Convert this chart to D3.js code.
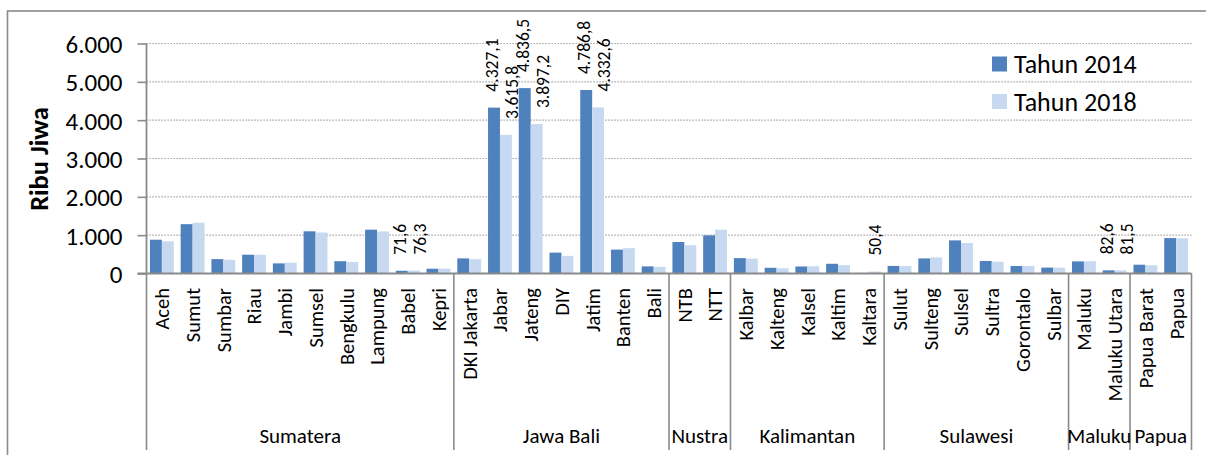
<!DOCTYPE html>
<html><head><meta charset="utf-8">
<script src="https://cdn.jsdelivr.net/npm/d3@7"></script>
<style>
body{margin:0;background:#fff}
svg{display:block}
text{font-family:Carlito, Lato, sans-serif; fill:#000}
</style>
</head><body>
<svg id="c" width="1206" height="455"></svg>
<script>
const provinces = ["Aceh","Sumut","Sumbar","Riau","Jambi","Sumsel","Bengkulu","Lampung","Babel","Kepri",
  "DKI Jakarta","Jabar","Jateng","DIY","Jatim","Banten","Bali",
  "NTB","NTT",
  "Kalbar","Kalteng","Kalsel","Kaltim","Kaltara",
  "Sulut","Sulteng","Sulsel","Sultra","Gorontalo","Sulbar",
  "Maluku","Maluku Utara",
  "Papua Barat","Papua"];
const regions = ["Sumatera","Jawa Bali","Nustra","Kalimantan","Sulawesi","Maluku","Papua"];
const regionCounts = [10,7,2,5,6,2,2];
const seriesNames = ["Tahun 2014","Tahun 2018"];
const values2014 = [881.3,1286.7,375.0,490.0,263.8,1100.8,320.4,1143.9,71.6,125.0,
  394.0,4327.1,4836.5,544.9,4786.8,622.8,185.2,
  820.8,994.7,
  401.5,148.8,183.2,253.6,null,
  197.6,392.7,864.3,326.7,194.7,153.9,
  316.1,82.6,
  229.4,924.4];
const values2018 = [839.5,1325.0,357.1,488.0,281.7,1068.3,301.8,1097.1,76.3,128.0,
  373.1,3615.8,3897.2,460.1,4332.6,661.4,171.8,
  737.5,1142.2,
  387.1,136.9,189.0,218.9,50.4,
  193.3,420.2,792.6,307.1,198.5,152.0,
  320.4,81.5,
  214.5,917.6];
const yTicks = [0,1000,2000,3000,4000,5000,6000];
const labelled2014 = ["Babel","Jabar","Jateng","Jatim","Maluku Utara"];
const labelled2018 = ["Babel","Jabar","Jateng","Jatim","Kaltara","Maluku Utara"];
const yTitle = "Ribu Jiwa";

const colors = ["#4F81BD","#C6D9F0"];
const gray = "#8a8a8a";
const FONT = "Carlito, Lato, sans-serif";
const svg = d3.select("#c");
const X0 = 146.5, X1 = 1191.5, Y0 = 273.5, YT = 43.5;

const loc = d3.formatLocale({decimal:",", thousands:".", grouping:[3], currency:["",""]});
const fmtTick = loc.format(",.0f");
const fmtVal = loc.format(",.1f");

const x = d3.scaleBand().domain(provinces).range([X0, X1]).padding(0);
const bw = x.bandwidth();
const xs = d3.scaleBand().domain(seriesNames).range([bw*0.112, bw*0.888]).padding(0);
const y = d3.scaleLinear().domain([0,6000]).range([Y0, YT]);

// outer border
svg.append("rect").attr("x",7.5).attr("y",11).attr("width",1300).attr("height",600)
  .attr("fill","none").attr("stroke",gray).attr("stroke-width",1.6);

// grid
svg.append("g").selectAll("line").data(yTicks.filter(d=>d>0)).join("line")
  .attr("x1",X0).attr("x2",X1).attr("y1",d=>y(d)).attr("y2",d=>y(d))
  .attr("stroke","#8c8c8c").attr("stroke-width",1.2).attr("stroke-dasharray","1.2,1.8");

// y axis
const yAxis = svg.append("g").attr("transform",`translate(${X0},0)`)
  .call(d3.axisLeft(y).tickValues(yTicks).tickSize(9).tickPadding(15).tickFormat(fmtTick));
yAxis.select(".domain").attr("stroke",gray).attr("stroke-width",1.8).attr("d",`M0,${YT}V${Y0}`);
yAxis.selectAll(".tick line").attr("stroke",gray).attr("stroke-width",1.6);
yAxis.selectAll(".tick text").attr("font-size",25).attr("font-family",FONT).attr("fill","#000").attr("dy","0.36em");

// y title
svg.append("text").attr("transform",`translate(47.5,159) rotate(-90)`)
  .attr("text-anchor","middle").attr("font-size",26.5).attr("font-weight","bold").text(yTitle);

// bars
const rows = provinces.map((p,i)=>({p, vals:[values2014[i], values2018[i]]}));
const gb = svg.append("g");
rows.forEach(r=>{
  r.vals.forEach((v,k)=>{
    if(v==null) return;
    gb.append("rect").attr("x",x(r.p)+xs(seriesNames[k])).attr("width",xs.bandwidth())
      .attr("y",y(v)).attr("height",Y0-y(v)).attr("fill",colors[k]);
  });
});

// x axis line
svg.append("line").attr("x1",X0-9).attr("x2",X1).attr("y1",Y0).attr("y2",Y0)
  .attr("stroke",gray).attr("stroke-width",2);

// data labels
const gl = svg.append("g");
rows.forEach(r=>{
  const has = [labelled2014.includes(r.p) && r.vals[0]!=null, labelled2018.includes(r.p) && r.vals[1]!=null];
  const both = has[0] && has[1];
  const pc = x(r.p) + bw/2;
  r.vals.forEach((v,k)=>{
    if(!has[k]) return;
    const bc = x(r.p)+xs(seriesNames[k])+xs.bandwidth()/2;
    const cx = both ? (k===0 ? pc-8 : pc+12) : bc;
    const sy = y(v) - 16;
    gl.append("text").attr("transform",`translate(${cx},${sy}) rotate(-90)`)
      .attr("text-anchor","start").attr("dy","0.36em").attr("font-size",17.5).text(fmtVal(v));
  });
});

// category labels
const xAxis = svg.append("g").attr("transform",`translate(0,${Y0})`)
  .call(d3.axisBottom(x).tickSize(0).tickPadding(0));
xAxis.select(".domain").remove();
xAxis.selectAll(".tick text")
  .attr("transform","translate(0,14.5) rotate(-90)")
  .attr("text-anchor","end").attr("x",0).attr("y",0).attr("dy","0.36em")
  .attr("font-size",20.5).attr("font-family",FONT).attr("fill","#000");

// group separators and labels
let acc = 0;
const bounds = [0];
regionCounts.forEach(c=>{acc+=c; bounds.push(acc);});
const edgeX = i => i>=provinces.length ? X1 : x(provinces[i]);
svg.append("g").selectAll("line").data(bounds).join("line")
  .attr("x1",d=>edgeX(d)).attr("x2",d=>edgeX(d)).attr("y1",Y0).attr("y2",450)
  .attr("stroke",gray).attr("stroke-width",1.6);
svg.append("g").selectAll("text").data(regions).join("text")
  .attr("x",(d,i)=>(edgeX(bounds[i])+edgeX(bounds[i+1]))/2).attr("y",443)
  .attr("text-anchor","middle").attr("font-size",21).text(d=>d);

// legend
const lg = svg.append("g");
seriesNames.forEach((s,k)=>{
  const ly = 64 + k*37.5;
  lg.append("rect").attr("x",992).attr("y",ly-7.5).attr("width",15).attr("height",15).attr("fill",colors[k]);
  lg.append("text").attr("x",1014).attr("y",ly).attr("dy","0.36em").attr("font-size",26).text(s);
});
</script>
</body></html>
